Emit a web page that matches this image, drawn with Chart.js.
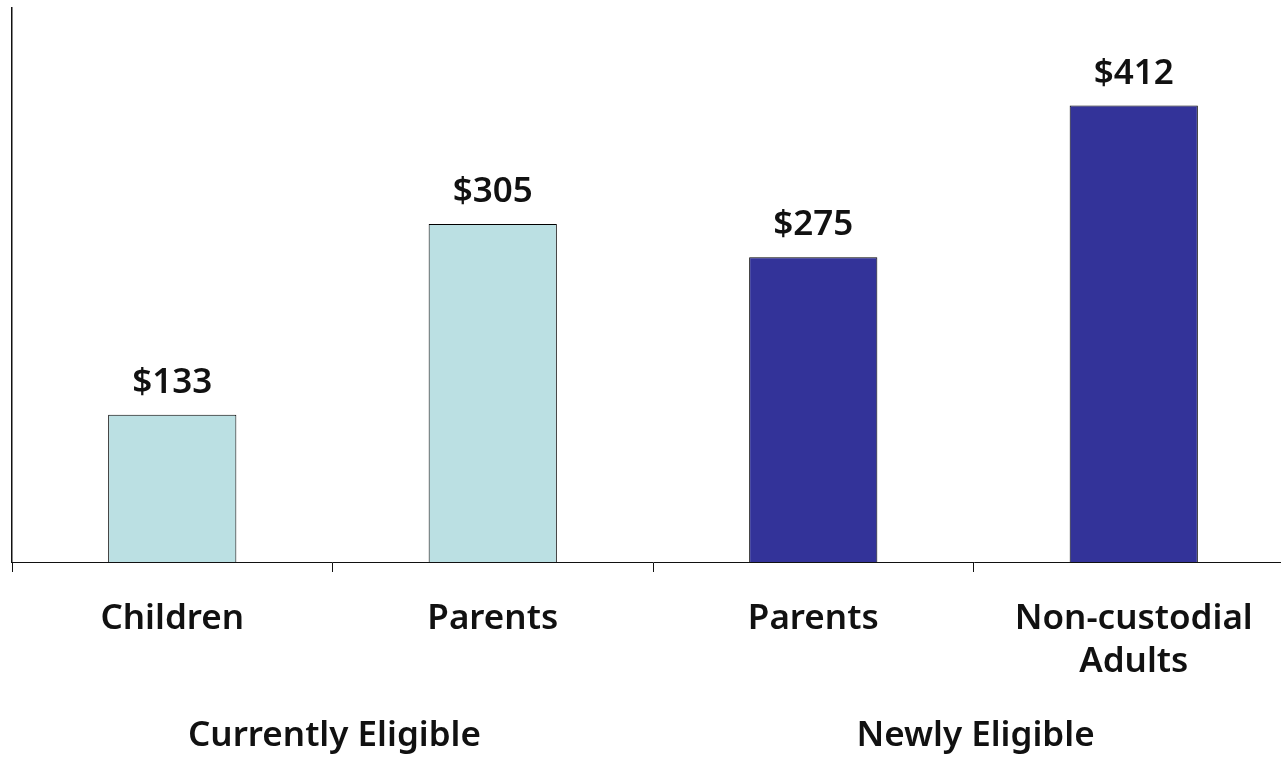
<!DOCTYPE html>
<html lang="en">
<head>
    <meta charset="UTF-8">
    <title>Cost per enrollee</title>
    <script src="https://cdn.jsdelivr.net/npm/chart.js"></script>
    <style>
        body {
            margin: 0;
            padding: 0;
            background-color: white;
            overflow: hidden;
        }
    </style>
</head>
<body>
<canvas id="cost-chart" width="1300" height="757"></canvas>
<script>
    // data
    var categories = ['Children', 'Parents', 'Parents', ['Non-custodial', 'Adults']];
    var costs = [133, 305, 275, 412];
    var groups = ['Currently Eligible', 'Newly Eligible'];
    var groupMembers = [[0, 1], [2, 3]];

    var lightBar = 'rgb(187, 224, 227)';
    var darkBar = 'rgb(51, 51, 153)';
    var labelFont = '600 35px "Noto Sans", sans-serif';

    var valueLabels = {
        id: 'valueLabels',
        afterDatasetsDraw: function (chart) {
            var ctx = chart.ctx;
            var meta = chart.getDatasetMeta(0);
            ctx.save();
            ctx.font = labelFont;
            ctx.fillStyle = '#111';
            ctx.textAlign = 'center';
            ctx.textBaseline = 'alphabetic';
            meta.data.forEach(function (bar, i) {
                ctx.fillText('$' + costs[i], bar.x, bar.y - 22);
            });

            // group captions under the category labels
            var xScale = chart.scales.x;
            groups.forEach(function (g, i) {
                var idx = groupMembers[i];
                var x = (xScale.getPixelForValue(idx[0]) + xScale.getPixelForValue(idx[idx.length - 1])) / 2;
                ctx.fillText(g, x + 2, 746);
            });
            ctx.restore();
        }
    };

    new Chart(document.getElementById('cost-chart').getContext('2d'), {
        type: 'bar',
        data: {
            labels: categories,
            datasets: [{
                data: costs,
                backgroundColor: [lightBar, lightBar, darkBar, darkBar],
                borderColor: '#000',
                borderWidth: 1,
                categoryPercentage: 1,
                barPercentage: 0.4
            }]
        },
        options: {
            responsive: false,
            animation: false,
            layout: {
                padding: {left: 12, top: 8, right: 6, bottom: 0}
            },
            plugins: {
                legend: {display: false},
                tooltip: {enabled: false}
            },
            scales: {
                x: {
                    offset: true,
                    grid: {
                        offset: true,
                        drawOnChartArea: false,
                        drawTicks: true,
                        tickLength: 10,
                        color: '#111'
                    },
                    border: {color: '#111', width: 1},
                    ticks: {
                        color: '#111',
                        padding: 25,
                        maxRotation: 0,
                        autoSkip: false,
                        font: {family: '"Noto Sans", sans-serif', size: 35, weight: '600', lineHeight: 1.24}
                    },
                    afterFit: function (scale) {
                        scale.height = 195;
                    }
                },
                y: {
                    min: 0,
                    max: 500,
                    grid: {display: false},
                    ticks: {display: false},
                    border: {color: '#111', width: 1.5},
                    afterFit: function (scale) {
                        scale.width = 0;
                    }
                }
            }
        },
        plugins: [valueLabels]
    });
</script>
</body>
</html>
